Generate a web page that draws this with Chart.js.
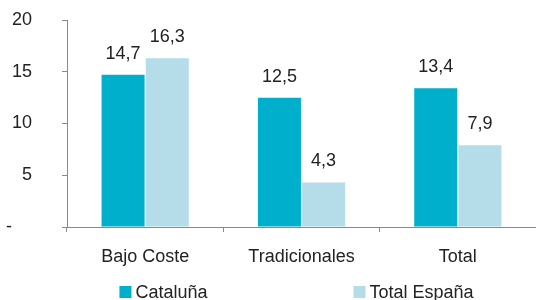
<!DOCTYPE html>
<html>
<head>
<meta charset="utf-8">
<script src="https://cdn.jsdelivr.net/npm/chart.js@4"></script>
<style>
  html, body { margin: 0; padding: 0; background: #fff; }
  #wrap { width: 536px; height: 300px; }
</style>
</head>
<body>
<div id="wrap"><canvas id="chart" width="536" height="300"></canvas></div>
<script>
const categories = ["Bajo Coste", "Tradicionales", "Total"];
const seriesNames = ["Cataluña", "Total España"];
const cataluna = [14.7, 12.5, 13.4];
const espana = [16.3, 4.3, 7.9];
const yTicks = [0, 5, 10, 15, 20];

const colors = ["#00AFCC", "#B4DDE9"];
const textColor = "#222";
const axisColor = "#8a8a8a";
const font = { family: "'Liberation Sans', Arial, sans-serif", size: 18 };

// value labels above the bars, with decimal comma
const valueLabels = {
  id: "valueLabels",
  afterDatasetsDraw(chart) {
    const ctx = chart.ctx;
    ctx.save();
    ctx.font = font.size + "px " + font.family;
    ctx.fillStyle = textColor;
    ctx.textAlign = "center";
    ctx.textBaseline = "alphabetic";
    chart.data.datasets.forEach((ds, i) => {
      chart.getDatasetMeta(i).data.forEach((bar, j) => {
        const txt = String(ds.data[j]).replace(".", ",");
        ctx.fillText(txt, bar.x, bar.y - 16);
      });
    });
    ctx.restore();
  }
};

// legend drawn by hand so it sits where the original one is
const bottomLegend = {
  id: "bottomLegend",
  afterDraw(chart) {
    const ctx = chart.ctx;
    ctx.save();
    ctx.font = font.size + "px " + font.family;
    ctx.textBaseline = "alphabetic";
    const box = 12, gap = 146;
    const widths = chart.data.datasets.map(ds => box + 4 + ctx.measureText(ds.label).width);
    const total = widths.reduce((a, b) => a + b, 0) + gap * (widths.length - 1);
    let x = (chart.chartArea.left + chart.chartArea.right) / 2 - 5 - total / 2;
    chart.data.datasets.forEach((ds, i) => {
      ctx.fillStyle = ds.backgroundColor;
      ctx.fillRect(x, 286, box, box);
      ctx.fillStyle = textColor;
      ctx.textAlign = "left";
      ctx.fillText(ds.label, x + box + 4, 298);
      x += widths[i] + gap;
    });
    ctx.restore();
  }
};

new Chart(document.getElementById("chart"), {
  type: "bar",
  data: {
    labels: categories,
    datasets: [
      { label: seriesNames[0], data: cataluna, backgroundColor: colors[0] },
      { label: seriesNames[1], data: espana, backgroundColor: colors[1] }
    ]
  },
  options: {
    responsive: false,
    animation: false,
    events: [],
    layout: { padding: 0 },
    datasets: { bar: { categoryPercentage: 0.565, barPercentage: 0.975 } },
    plugins: {
      legend: { display: false },
      tooltip: { enabled: false }
    },
    scales: {
      x: {
        offset: true,
        grid: { offset: true, drawOnChartArea: false, drawTicks: true, tickLength: 5, color: axisColor },
        border: { color: axisColor, width: 1 },
        ticks: { color: textColor, font: font, padding: 14, maxRotation: 0 },
        afterFit(scale) { scale.height = 73; }
      },
      y: {
        min: 0,
        max: 20,
        afterBuildTicks(scale) { scale.ticks = yTicks.map(v => ({ value: v })); },
        grid: { drawOnChartArea: false, drawTicks: true, tickLength: 5, color: axisColor },
        border: { color: axisColor, width: 1 },
        ticks: {
          color: textColor,
          font: font,
          padding: 30,
          callback: v => v === 0 ? "-    " : String(v)
        },
        afterFit(scale) {
          scale.width = 67;
          scale.paddingTop = 20;
          scale.paddingBottom = 0;
        }
      }
    }
  },
  plugins: [valueLabels, bottomLegend]
});
</script>
</body>
</html>
